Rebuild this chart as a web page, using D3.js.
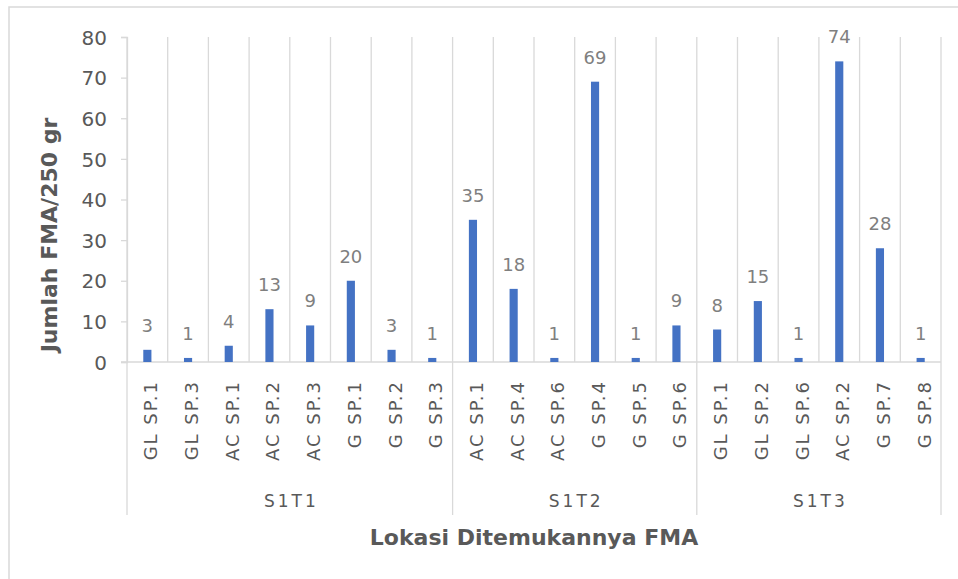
<html>
    <head>
        <script src="https://d3js.org/d3.v7.min.js"></script>
    </head>
    <style type="text/css">
        body {
            margin: 0;
            background: #fff;
            font-family: 'DejaVu Sans', sans-serif;
        }
        .grid {
            stroke: #d9d9d9;
            stroke-width: 1.3px;
        }
        .val {
            fill: #7f7f7f;
            font-size: 18px;
            text-anchor: middle;
        }
        .cat {
            fill: #595959;
            font-size: 18px;
            letter-spacing: 2px;
            text-anchor: end;
        }
        .grp {
            fill: #595959;
            font-size: 17px;
            letter-spacing: 3px;
            text-anchor: middle;
        }
        .ttl {
            fill: #595959;
            font-size: 22px;
            font-weight: bold;
            text-anchor: middle;
        }
    </style>
    <body>
        <div id='chart'></div>
    </body>
    <script type='text/javascript'>
        const W = 958, H = 579
        const plotLeft = 127, plotRight = 941, plotTop = 37, plotBottom = 362
        const groupBottom = 515

        // data
        const species = ['GL SP.1', 'GL SP.3', 'AC SP.1', 'AC SP.2', 'AC SP.3', 'G SP.1', 'G SP.2', 'G SP.3',
                         'AC SP.1', 'AC SP.4', 'AC SP.6', 'G SP.4', 'G SP.5', 'G SP.6',
                         'GL SP.1', 'GL SP.2', 'GL SP.6', 'AC SP.2', 'G SP.7', 'G SP.8']
        const locations = ['S1T1', 'S1T1', 'S1T1', 'S1T1', 'S1T1', 'S1T1', 'S1T1', 'S1T1',
                           'S1T2', 'S1T2', 'S1T2', 'S1T2', 'S1T2', 'S1T2',
                           'S1T3', 'S1T3', 'S1T3', 'S1T3', 'S1T3', 'S1T3']
        const counts = [3, 1, 4, 13, 9, 20, 3, 1, 35, 18, 1, 69, 1, 9, 8, 15, 1, 74, 28, 1]
        const groups = ['S1T1', 'S1T2', 'S1T3']
        const yTicks = [0, 10, 20, 30, 40, 50, 60, 70, 80]

        const data = species.map((s, i) => ({key: i, name: s, loc: locations[i], value: counts[i]}))

        const x = d3.scaleBand().domain(data.map(d => d.key)).range([plotLeft, plotRight]).padding(0)
        const y = d3.scaleLinear().domain([0, 80]).range([plotBottom, plotTop])

        const svg = d3.select('#chart').append('svg')
            .attr('width', W)
            .attr('height', H)

        // outer frame
        svg.append('rect')
            .attr('x', 9).attr('y', 7)
            .attr('width', W + 20).attr('height', H + 20)
            .attr('fill', 'none')
            .attr('stroke', '#d9d9d9')
            .attr('stroke-width', 1.5)

        // vertical grid between categories
        svg.append('g').selectAll('line')
            .data(data.slice(1))
            .join('line')
            .attr('class', 'grid')
            .attr('x1', d => x(d.key)).attr('x2', d => x(d.key))
            .attr('y1', plotTop).attr('y2', plotBottom)

        svg.append('line')
            .attr('class', 'grid')
            .attr('x1', plotRight).attr('x2', plotRight)
            .attr('y1', plotTop).attr('y2', plotBottom)

        // y axis
        const yAxis = svg.append('g')
            .attr('transform', `translate(${plotLeft},0)`)
            .call(d3.axisLeft(y).tickValues(yTicks).tickSize(6).tickPadding(14))
        yAxis.select('.domain').attr('stroke', '#d9d9d9').attr('stroke-width', 1.3)
        yAxis.selectAll('.tick line').attr('stroke', '#d9d9d9').attr('stroke-width', 1.3)
        yAxis.selectAll('.tick text')
            .attr('fill', '#595959')
            .attr('font-size', '20px')
            .attr('font-family', "'DejaVu Sans', sans-serif")
            .attr('dy', '0.36em')

        // x axis line
        svg.append('line')
            .attr('class', 'grid')
            .attr('x1', plotLeft - 6).attr('x2', plotRight)
            .attr('y1', plotBottom).attr('y2', plotBottom)

        // group separators below axis
        const edges = groups.map(g => {
            const items = data.filter(d => d.loc === g)
            return {name: g, x0: x(items[0].key), x1: x(items[items.length - 1].key) + x.bandwidth()}
        })
        const sepX = [edges[0].x0].concat(edges.map(e => e.x1))
        svg.append('g').selectAll('line')
            .data(sepX)
            .join('line')
            .attr('class', 'grid')
            .attr('x1', d => d).attr('x2', d => d)
            .attr('y1', d => d === plotLeft ? plotTop : plotBottom).attr('y2', groupBottom)

        // bars
        const bw = x.bandwidth() * 0.2
        svg.append('g').selectAll('rect')
            .data(data)
            .join('rect')
            .attr('x', d => x(d.key) + (x.bandwidth() - bw) / 2)
            .attr('y', d => y(d.value))
            .attr('width', bw)
            .attr('height', d => y(0) - y(d.value))
            .attr('fill', '#4472c4')

        // value labels
        svg.append('g').selectAll('text')
            .data(data)
            .join('text')
            .attr('class', 'val')
            .attr('x', d => x(d.key) + x.bandwidth() / 2)
            .attr('y', d => y(d.value) - 18)
            .text(d => d.value)

        // category labels
        svg.append('g').selectAll('text')
            .data(data)
            .join('text')
            .attr('class', 'cat')
            .attr('transform', d => `translate(${x(d.key) + x.bandwidth() / 2 + 10}, 380) rotate(-90)`)
            .text(d => d.name)

        // group labels
        svg.append('g').selectAll('text')
            .data(edges)
            .join('text')
            .attr('class', 'grp')
            .attr('x', d => (d.x0 + d.x1) / 2 + 1.5)
            .attr('y', 507)
            .text(d => d.name)

        // titles
        svg.append('text')
            .attr('class', 'ttl')
            .attr('x', 534)
            .attr('y', 545)
            .text('Lokasi Ditemukannya FMA')

        svg.append('text')
            .attr('class', 'ttl')
            .attr('transform', `translate(57, 235) rotate(-90)`)
            .text('Jumlah FMA/250 gr')
    </script>
</html>
